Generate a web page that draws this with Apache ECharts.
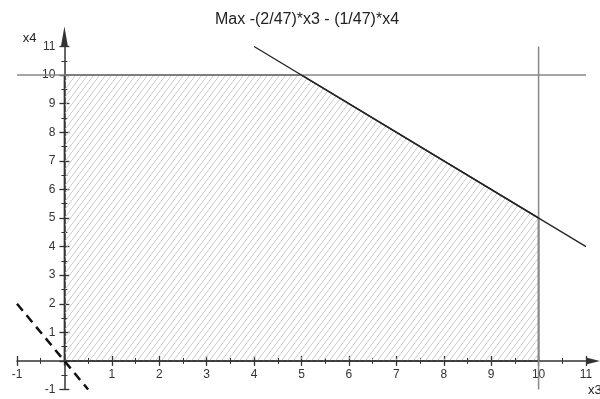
<!DOCTYPE html>
<html>
<head>
<meta charset="utf-8">
<script src="https://cdn.jsdelivr.net/npm/echarts@6/dist/echarts.min.js"></script>
<style>html,body{margin:0;padding:0;background:#fff}#c{width:600px;height:399px}</style>
</head>
<body>
<div id="c"></div>
<script>
// ---- data ----
const titleText = 'Max -(2/47)*x3 - (1/47)*x4';
const xName = 'x3';
const yName = 'x4';
const axisMin = -1;
const axisMax = 11;
const feasibleRegion = [[0, 0], [0, 10], [5, 10], [10, 5], [10, 0]];
const lineX4eq10 = [[-1, 10], [11, 10]];
const lineX3eq10 = [[10, -1], [10, 11]];
const lineSum15 = [[4, 11], [11, 4]];
const objectiveLine = [[-1, 2], [0.5, -1]];

// layout
const G = { left: 17, right: 14, top: 46.5, bottom: 9.5 };
const W = 600, H = 399;
const pxPerX = (W - G.left - G.right) / (axisMax - axisMin);
const pxPerY = (H - G.top - G.bottom) / (axisMax - axisMin);

// hatch pattern
function makeHatch() {
  const w = 6, h = 8;
  const c = document.createElement('canvas');
  c.width = w; c.height = h;
  const g = c.getContext('2d');
  g.strokeStyle = '#cccccc';
  g.lineWidth = 1;
  g.beginPath();
  g.moveTo(-w, 2 * h); g.lineTo(2 * w, -h);
  g.stroke();
  return c;
}
const hatch = makeHatch();

const font = 'Liberation Sans, Arial, sans-serif';
const labelFmt = v => (v === 0 ? '' : String(v));
const tickStyle = { color: '#333', width: 1.3 };

// role: 'main' (line + outer ticks + name), 'inner' (inner ticks), 'labels' (labels only)
function xAxisCfg(role) {
  const a = {
    type: 'value', min: axisMin, max: axisMax, interval: 1,
    position: 'bottom',
    splitLine: { show: false },
    axisLine: { show: false, onZero: role !== 'labels', onZeroAxisIndex: 0 },
    axisTick: { show: role !== 'labels', inside: role === 'inner', length: 5, lineStyle: tickStyle },
    minorTick: { show: role !== 'labels', splitNumber: 2, length: 3, lineStyle: { color: '#333', width: 1 } },
    axisLabel: { show: false }
  };
  if (role === 'main') {
    a.axisLine = {
      show: true, onZero: true, onZeroAxisIndex: 0,
      symbol: ['none', 'triangle'], symbolSize: [7, 14], symbolOffset: [0, 7],
      lineStyle: { color: '#333', width: 1.5 }
    };
    a.name = xName;
    a.nameLocation = 'end';
    a.nameGap = 2;
    a.nameTextStyle = { color: '#222', fontSize: 13, fontFamily: font, align: 'left', verticalAlign: 'top', padding: [23, 0, 0, 0] };
  }
  if (role === 'labels') {
    a.offset = -pxPerY * (0 - axisMin);
    a.axisLabel = { show: true, formatter: labelFmt, color: '#333', fontSize: 12, fontFamily: font, margin: 8, showMinLabel: true, showMaxLabel: true, hideOverlap: false };
  }
  return a;
}
function yAxisCfg(role) {
  const a = {
    type: 'value', min: axisMin, max: axisMax, interval: 1,
    position: 'left',
    splitLine: { show: false },
    axisLine: { show: false, onZero: role !== 'labels', onZeroAxisIndex: 0 },
    axisTick: { show: role !== 'labels', inside: role === 'inner', length: 5, lineStyle: tickStyle },
    minorTick: { show: role !== 'labels', splitNumber: 2, length: 3, lineStyle: { color: '#333', width: 1 } },
    axisLabel: { show: false }
  };
  if (role === 'main') {
    a.axisLine = {
      show: true, onZero: true, onZeroAxisIndex: 0,
      symbol: ['none', 'triangle'], symbolSize: [7, 20], symbolOffset: [0, 10],
      lineStyle: { color: '#333', width: 1.5 }
    };
    a.name = yName;
    a.nameLocation = 'end';
    a.nameGap = 2;
    a.nameTextStyle = { color: '#222', fontSize: 13, fontFamily: font, align: 'right', verticalAlign: 'bottom', padding: [0, 28, 0, 0] };
  }
  if (role === 'labels') {
    a.offset = -pxPerX * (0 - axisMin);
    a.axisLabel = { show: true, formatter: labelFmt, color: '#333', fontSize: 12, fontFamily: font, margin: 9, showMinLabel: true, showMaxLabel: true, hideOverlap: false };
  }
  return a;
}

function lineSeries(data, color, width, type, z) {
  return {
    type: 'line', data: data, showSymbol: false, symbol: 'none', silent: true,
    lineStyle: { color: color, width: width, type: type || 'solid' }, z: z || 3,
    xAxisIndex: 0, yAxisIndex: 0, animation: false
  };
}

const chart = echarts.init(document.getElementById('c'), null, { renderer: 'canvas' });
chart.setOption({
  animation: false,
  backgroundColor: '#fff',
  title: { text: titleText, left: 210, top: 7, textStyle: { color: '#222', fontSize: 16, fontWeight: 'normal', fontFamily: font } },
  grid: { left: G.left, right: G.right, top: G.top, bottom: G.bottom, containLabel: false, outerBoundsMode: 'none' },
  xAxis: [xAxisCfg('main'), xAxisCfg('inner'), xAxisCfg('labels')],
  yAxis: [yAxisCfg('main'), yAxisCfg('inner'), yAxisCfg('labels')],
  series: [
    {
      type: 'custom', data: feasibleRegion, xAxisIndex: 0, yAxisIndex: 0, z: 1, silent: true,
      renderItem: function (params, api) {
        if (params.dataIndex !== 0) return null;
        const pts = feasibleRegion.map(p => api.coord(p));
        return {
          type: 'polygon',
          shape: { points: pts },
          style: { fill: { image: hatch, repeat: 'repeat' }, stroke: '#333', lineWidth: 1.5 }
        };
      }
    },
    lineSeries(lineX4eq10, '#888', 1.5, 'solid', 2),
    lineSeries(lineX3eq10, '#888', 1.5, 'solid', 2),
    lineSeries(lineSum15, '#222', 1.3, 'solid', 4),
    lineSeries(objectiveLine, '#111', 2.5, [9, 6], 4)
  ]
});
</script>
</body>
</html>
